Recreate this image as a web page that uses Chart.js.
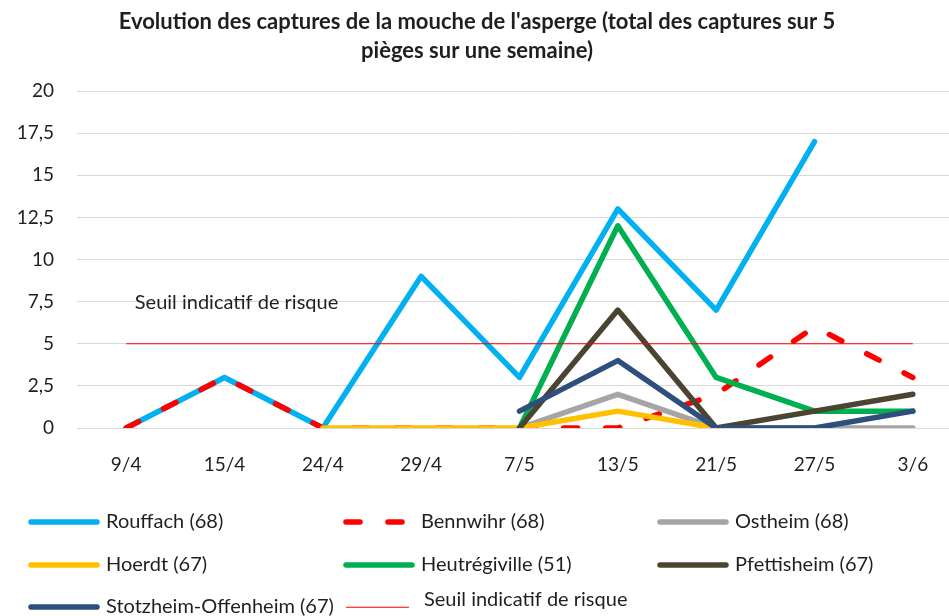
<!DOCTYPE html>
<html>
<head>
<meta charset="utf-8">
<script src="https://cdn.jsdelivr.net/npm/chart.js@4.4.1/dist/chart.umd.min.js"></script>
<style>
  html, body { margin: 0; padding: 0; background: #fff; overflow: hidden; }
  #cadre { width: 949px; height: 616px; overflow: hidden; position: relative; }
  #cadre div { position: absolute; left: 0; top: 0; width: 975px; height: 616px; }
</style>
</head>
<body>
<div id="cadre"><div><canvas id="graphique"></canvas></div></div>
<script>
// Données
const dates = ["9/4", "15/4", "24/4", "29/4", "7/5", "13/5", "21/5", "27/5", "3/6"];
const rouffach = [0, 3, 0, 9, 3, 13, 7, 17, null];
const bennwihr = [0, 3, 0, 0, 0, 0, 2, 6, 3];
const ostheim = [null, null, null, null, 0, 2, 0, 0, 0];
const hoerdt = [null, null, 0, 0, 0, 1, 0, null, null];
const heutregiville = [null, null, null, null, 0, 12, 3, 1, 1];
const pfettisheim = [null, null, null, null, 0, 7, 0, 1, 2];
const stotzheim = [null, null, null, null, 1, 4, 0, 0, 1];
const seuil = [5, 5, 5, 5, 5, 5, 5, 5, 5];
const graduations = [0, 2.5, 5, 7.5, 10, 12.5, 15, 17.5, 20];

const titre = ["Evolution des captures de la mouche de l'asperge (total des captures sur 5",
  "pièges sur une semaine)"];
const texteSeuil = "Seuil indicatif de risque";

const police = "Lato, 'Open Sans', sans-serif";
const encre = "#1f1f1f";

function serie(nom, valeurs, couleur, rang, extra) {
  return Object.assign({
    label: nom,
    data: valeurs,
    borderColor: couleur,
    backgroundColor: couleur,
    borderWidth: 5.5,
    borderCapStyle: "round",
    borderJoinStyle: "round",
    pointRadius: 0,
    pointHoverRadius: 0,
    fill: false,
    tension: 0,
    order: rang
  }, extra || {});
}

const series = [
  serie("Rouffach (68)", rouffach, "#00B0F0", 8),
  serie("Bennwihr (68)", bennwihr, "#FF0000", 7, { borderDash: [14, 28] }),
  serie("Ostheim (68)", ostheim, "#A5A5A5", 6),
  serie("Hoerdt (67)", hoerdt, "#FFC000", 5),
  serie("Heutrégiville (51)", heutregiville, "#00B050", 4),
  serie("Pfettisheim (67)", pfettisheim, "#4A4430", 3),
  serie("Stotzheim-Offenheim (67)", stotzheim, "#2E4E7C", 2),
  serie("Seuil indicatif de risque", seuil, "#FF0000", 1, { borderWidth: 1.2, borderCapStyle: "butt" })
];

// Titre, étiquette du seuil et légende en grille (3 colonnes)
const habillage = {
  id: "habillage",
  afterDraw(chart) {
    const ctx = chart.ctx;
    const x = chart.scales.x, y = chart.scales.y;
    ctx.save();
    ctx.fillStyle = encre;
    ctx.textAlign = "center";
    ctx.textBaseline = "middle";
    ctx.font = "bold 22px " + police;
    ctx.fillText(titre[0], 477, 22);
    ctx.fillText(titre[1], 477, 51);

    ctx.font = "20px " + police;
    ctx.fillText(texteSeuil, x.getPixelForValue(1) + 12, y.getPixelForValue(5) - 41);

    const colonnes = [28, 343, 657];
    const lignes = [522, 565, 607];
    ctx.textAlign = "left";
    chart.data.datasets.forEach((d, i) => {
      const x0 = colonnes[i % 3];
      const y0 = lignes[Math.floor(i / 3)];
      const thin = d.borderWidth <= 2;
      const fin = thin ? 69 : 72;
      const yl = thin ? y0 + 0.25 : y0;
      ctx.beginPath();
      ctx.strokeStyle = d.borderColor;
      ctx.lineWidth = d.borderWidth;
      ctx.lineCap = d.borderCapStyle;
      ctx.setLineDash(d.borderDash || []);
      ctx.moveTo(x0 + 3, yl);
      ctx.lineTo(x0 + fin - 3, yl);
      ctx.stroke();
      ctx.setLineDash([]);
      ctx.fillText(d.label, x0 + fin + (thin ? 12 : 6), thin ? y0 - 7 : y0);
    });
    ctx.restore();
  }
};

new Chart(document.getElementById("graphique"), {
  type: "line",
  data: { labels: dates, datasets: series },
  plugins: [habillage],
  options: {
    responsive: true,
    maintainAspectRatio: false,
    animation: false,
    layout: { padding: { top: 91, left: 14, right: 13, bottom: 128 } },
    plugins: {
      legend: { display: false },
      title: { display: false },
      tooltip: { enabled: false }
    },
    scales: {
      x: {
        offset: true,
        grid: { display: false },
        border: { display: false },
        ticks: { color: encre, font: { family: police, size: 19 }, padding: 17, maxRotation: 0 },
        afterFit: (s) => { s.height = 60; }
      },
      y: {
        min: 0,
        max: 20,
        afterBuildTicks: (s) => { s.ticks = graduations.map(v => ({ value: v })); },
        grid: { color: "#D9D9D9", lineWidth: 1, drawTicks: false },
        border: { display: false },
        ticks: {
          color: encre,
          font: { family: police, size: 19 },
          padding: 23,
          callback: (v) => String(v).replace(".", ",")
        },
        afterFit: (s) => { s.width = 63; }
      }
    }
  }
});
</script>
</body>
</html>
